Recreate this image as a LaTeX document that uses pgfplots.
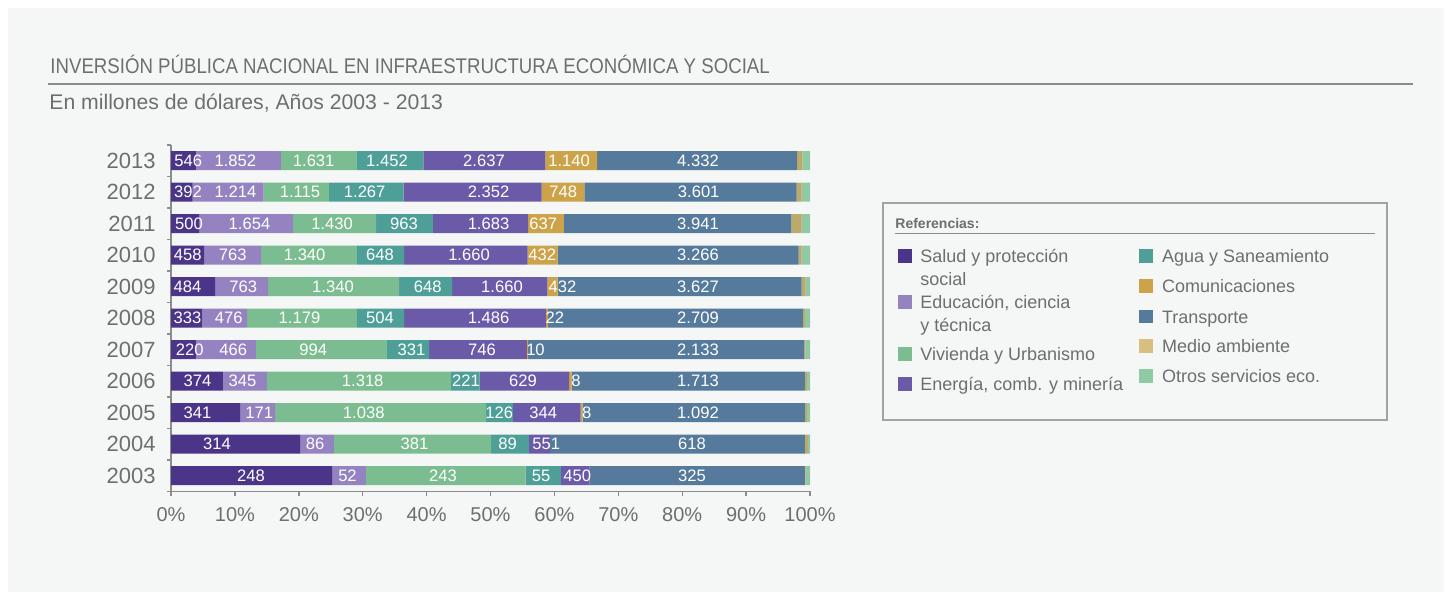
\documentclass[border=0pt]{standalone}
\usepackage{fontspec}
\setmainfont{Liberation Sans}
\newfontfamily\titlefont[FakeStretch=0.88]{Liberation Sans}
\usepackage{pgfplots}
\pgfplotsset{compat=1.18}
\usepackage{pgfplotstable}

\definecolor{panel}{HTML}{F5F7F6}
\definecolor{txtgray}{HTML}{6E6E6E}
\definecolor{axgray}{HTML}{8C8C8C}
\definecolor{cSalud}{HTML}{4B3589}
\definecolor{cEdu}{HTML}{9483C0}
\definecolor{cViv}{HTML}{7BBD90}
\definecolor{cAgua}{HTML}{4F9F99}
\definecolor{cEne}{HTML}{6A5AA8}
\definecolor{cCom}{HTML}{CDA349}
\definecolor{cTra}{HTML}{557A9B}
\definecolor{cMed}{HTML}{BCA96C}
\definecolor{cMedL}{HTML}{D8BE80}
\definecolor{cOtr}{HTML}{8FCAA5}

% segment widths (% of bar)
\pgfplotstableread{
y s e v a en c t m o
0 25.2 5.3 25.0 5.5 4.5 0 33.7 0.1 0.7
1 20.2 5.3 24.6 5.9 3.3 0 39.9 0.5 0.3
2 10.8 5.5 33.0 4.2 10.6 0.3 34.8 0.3 0.5
3 8.1 6.9 28.8 4.5 14.0 0.4 36.5 0.3 0.5
4 3.9 9.4 20.5 6.6 15.3 0.2 43.2 0.2 0.7
5 4.9 7.0 17.2 7.4 22.2 0.3 39.9 0.3 0.8
6 6.9 8.3 20.5 8.3 14.9 1.6 38.2 0.6 0.7
7 5.2 8.9 15.0 7.4 19.3 4.7 37.7 0.5 1.3
8 4.4 14.7 13.0 8.9 14.9 5.6 35.6 1.6 1.3
9 3.4 11.1 10.2 11.7 21.6 6.7 33.2 0.8 1.3
10 3.9 13.3 11.8 10.5 19.1 8.1 31.3 0.8 1.2
}\bars

% value labels (millions of dollars) and their positions
\pgfplotstableread{
y x lab
10 2.71 546
10 10.06 1.852
10 22.33 1.631
10 33.80 1.452
10 48.98 2.637
10 62.29 1.140
10 82.47 4.332
9 2.66 392
9 10.09 1.214
9 20.19 1.115
9 30.31 1.267
9 49.69 2.352
9 61.39 748
9 82.58 3.601
8 2.82 500
8 12.28 1.654
8 25.20 1.430
8 36.46 963
8 49.69 1.683
8 58.26 637
8 82.47 3.941
7 2.63 458
7 9.66 763
7 20.92 1.340
7 32.71 648
7 46.64 1.660
7 58.09 432
7 82.47 3.266
6 2.58 484
6 11.31 763
6 25.35 1.340
6 40.19 648
6 51.80 1.660
6 61.27 432
6 82.47 3.627
5 2.58 333
5 9.03 476
5 20.11 1.179
5 32.71 504
5 49.69 1.486
5 60.09 22
5 82.47 2.709
4 2.93 220
4 9.75 466
4 22.27 994
4 37.64 331
4 48.67 746
4 57.04 10
4 82.47 2.133
3 4.15 374
3 11.19 345
3 30.00 1.318
3 46.17 221
3 55.09 629
3 63.38 8
3 82.47 1.713
2 4.15 341
2 13.82 171
2 30.16 1.038
2 51.38 126
2 58.26 344
2 65.05 8
2 82.47 1.092
1 7.20 314
1 22.54 86
1 38.11 381
1 52.66 89
1 58.73 551
1 81.53 618
0 12.52 248
0 27.62 52
0 42.57 243
0 57.93 55
0 63.58 450
0 81.53 325
}\labs

\begin{document}
\begin{tikzpicture}
\fill[white] (0,0) rectangle (725pt,297pt);
\fill[panel] (4pt,1pt) rectangle (722pt,293pt);

% title
\node[anchor=base west, inner sep=0, text=txtgray, font=\titlefont\fontsize{10.6}{12}\selectfont] at (25pt,260pt) {INVERSIÓN PÚBLICA NACIONAL EN INFRAESTRUCTURA ECONÓMICA Y SOCIAL};
\draw[color=axgray, line width=0.7pt] (24pt,255pt) -- (706.5pt,255pt);
\node[anchor=base west, inner sep=0, text=txtgray, font=\fontsize{10.6}{12}\selectfont] at (24.5pt,242pt) {En millones de dólares, Años 2003 - 2013};

\begin{axis}[
  at={(85.5pt,51.3pt)}, anchor=south west,
  scale only axis, width=319.5pt, height=173.25pt,
  xmin=0, xmax=100, ymin=-0.5, ymax=10.5,
  xbar stacked, bar width=9.5pt,
  axis x line*=bottom, axis y line*=left,
  axis line style={color=axgray, line width=0.7pt},
  xtick={0,10,...,100},
  xticklabels={0\%,10\%,20\%,30\%,40\%,50\%,60\%,70\%,80\%,90\%,100\%},
  ytick={0,...,10},
  yticklabels={2003,2004,2005,2006,2007,2008,2009,2010,2011,2012,2013},
  minor ytick={-0.5,0.5,...,10.5},
  tick align=outside,
  major tick length=2.5pt, minor tick length=2pt,
  major x tick style={color=axgray, line width=0.7pt},
  major y tick style={draw=none},
  minor y tick style={color=axgray, line width=0.7pt},
  xticklabel style={font=\fontsize{10}{12}\selectfont, text=txtgray, inner sep=0pt, yshift=-5.5pt},
  yticklabel style={font=\fontsize{11}{12}\selectfont, text=txtgray, inner sep=0pt, xshift=-5pt},
  clip=false,
]
\addplot[fill=cSalud, draw=none] table[x=s, y=y] {\bars};
\addplot[fill=cEdu, draw=none] table[x=e, y=y] {\bars};
\addplot[fill=cViv, draw=none] table[x=v, y=y] {\bars};
\addplot[fill=cAgua, draw=none] table[x=a, y=y] {\bars};
\addplot[fill=cEne, draw=none] table[x=en, y=y] {\bars};
\addplot[fill=cCom, draw=none] table[x=c, y=y] {\bars};
\addplot[fill=cTra, draw=none] table[x=t, y=y] {\bars};
\addplot[fill=cMed, draw=none] table[x=m, y=y] {\bars};
\addplot[fill=cOtr, draw=none] table[x=o, y=y] {\bars};
\end{axis}

\begin{axis}[
  at={(85.5pt,51.3pt)}, anchor=south west,
  scale only axis, width=319.5pt, height=173.25pt,
  xmin=0, xmax=100, ymin=-0.5, ymax=10.5,
  hide axis, clip=false,
]
\addplot[only marks, mark=none,
  nodes near coords, point meta=explicit symbolic,
  nodes near coords align=center,
  every node near coord/.append style={font=\fontsize{8.3}{9}\selectfont, text=white, inner sep=0pt}]
  table[x=x, y=y, meta=lab] {\labs};
\end{axis}

% legend
\draw[color=axgray!80, line width=0.6pt, fill=panel] (441.5pt,87pt) rectangle (693.5pt,195.5pt);
\node[anchor=base west, inner sep=0, text=txtgray, font=\bfseries\fontsize{7}{8}\selectfont] at (447.5pt,182.9pt) {Referencias:};
\draw[color=axgray, line width=0.6pt] (447.5pt,180.3pt) -- (687.5pt,180.3pt);
\begin{scope}[every node/.style={anchor=base west, inner sep=0, text=txtgray, font=\fontsize{9}{11}\selectfont}]
\fill[cSalud] (449.2pt,165.7pt) rectangle ++(6.8pt,6.8pt);
\node at (460pt,165.7pt) {Salud y protección};
\node at (460pt,154.3pt) {social};
\fill[cEdu] (449.2pt,142.7pt) rectangle ++(6.8pt,6.8pt);
\node at (460pt,142.5pt) {Educación, ciencia};
\node at (460pt,131.3pt) {y técnica};
\fill[cViv] (449.2pt,116.7pt) rectangle ++(6.8pt,6.8pt);
\node at (460pt,116.7pt) {Vivienda y Urbanismo};
\fill[cEne] (449.2pt,101.7pt) rectangle ++(6.8pt,6.8pt);
\node at (460pt,101.7pt) {Energía, comb. y minería};
\fill[cAgua] (569.6pt,165.7pt) rectangle ++(6.8pt,6.8pt);
\node at (580.8pt,165.7pt) {Agua y Saneamiento};
\fill[cCom] (569.6pt,150.6pt) rectangle ++(6.8pt,6.8pt);
\node at (580.8pt,150.6pt) {Comunicaciones};
\fill[cTra] (569.6pt,135.3pt) rectangle ++(6.8pt,6.8pt);
\node at (580.8pt,135.3pt) {Transporte};
\fill[cMedL] (569.6pt,120.6pt) rectangle ++(6.8pt,6.8pt);
\node at (580.8pt,120.6pt) {Medio ambiente};
\fill[cOtr] (569.6pt,105.6pt) rectangle ++(6.8pt,6.8pt);
\node at (580.8pt,105.6pt) {Otros servicios eco.};
\end{scope}
\end{tikzpicture}
\end{document}
